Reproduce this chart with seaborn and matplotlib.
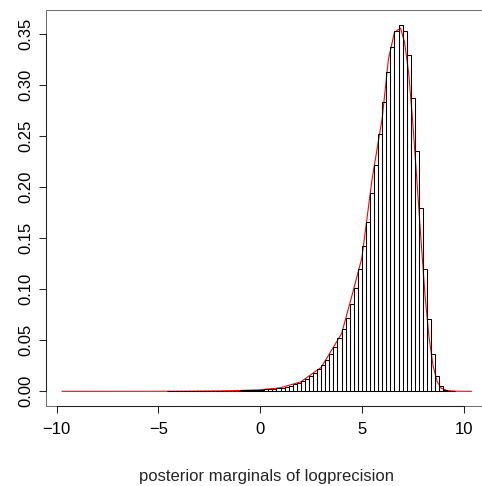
import numpy as np
import pandas as pd
import matplotlib
matplotlib.use("Agg")
import matplotlib.pyplot as plt
import seaborn as sns
from matplotlib.patches import Rectangle

# ---- data ----
bin_start = -4.6
bin_width = 0.2
bar_heights = [
    0.0001, 0.0001, 0.0001, 0.0001, 0.0001, 0.0002, 0.0002, 0.0002, 0.0002, 0.0003,
    0.0003, 0.0003, 0.0004, 0.0004, 0.0005, 0.0005, 0.0006, 0.0007, 0.0008, 0.0009,
    0.0010, 0.0012, 0.0014, 0.0016, 0.0019, 0.0022, 0.0026, 0.0031, 0.0036, 0.0043,
    0.0054, 0.0067, 0.0083, 0.0104, 0.0123, 0.0153, 0.0179, 0.0217, 0.0255, 0.0308,
    0.0370, 0.0438, 0.0519, 0.0613, 0.0719, 0.0857, 0.1015, 0.1200, 0.1420, 0.1660,
    0.1940, 0.2220, 0.2525, 0.2840, 0.3130, 0.3380, 0.3530, 0.3594, 0.3530, 0.3300,
    0.2880, 0.2360, 0.1800, 0.1200, 0.0708, 0.0367, 0.0153, 0.0049, 0.0016, 0.0006,
    0.0002,
]
dens_x = [-9.74, -6.0, -4.0, -2.0, -1.0, 0.0, 1.0, 2.0, 2.5, 3.0, 3.5, 4.0, 4.5,
          5.0, 5.5, 6.0, 6.3, 6.6, 6.9, 7.1, 7.3, 7.5, 7.7, 7.9, 8.1, 8.3, 8.5,
          8.7, 8.9, 9.2, 9.6, 10.39]
dens_y = [0.0, 0.00002, 0.0001, 0.0004, 0.0008, 0.0015, 0.0035, 0.0093, 0.0165,
          0.0235, 0.0400, 0.0565, 0.0930, 0.1310, 0.2080, 0.2680, 0.3250, 0.3520,
          0.3560, 0.3420, 0.3120, 0.2640, 0.2080, 0.1500, 0.0950, 0.0530, 0.0250,
          0.0095, 0.0030, 0.0007, 0.0001, 0.0]
x_ticks = [-10, -5, 0, 5, 10]
y_ticks = [0.00, 0.05, 0.10, 0.15, 0.20, 0.25, 0.30, 0.35]
x_label = "posterior marginals of logprecision"

# ---- derived ----
n_bins = len(bar_heights)
bin_end = round(bin_start + bin_width * n_bins, 6)
centers = [round(bin_start + bin_width * (i + 0.5), 6) for i in range(n_bins)]
hist_df = pd.DataFrame({"x": centers, "h": bar_heights})

sns.set_style("ticks")
plt.rcParams["font.family"] = ["Liberation Sans", "DejaVu Sans"]

FS = 12.0
W, H = 482, 486
fig = plt.figure(figsize=(W / 100, H / 100), dpi=100)
left_px, right_px, top_px, bottom_px = 45.7, 488.0, 10.0, 406.0
ax = fig.add_axes([left_px / W, 1 - bottom_px / H,
                   (right_px - left_px) / W, (bottom_px - top_px) / H])

sns.lineplot(x=dens_x, y=dens_y, color="red", linewidth=0.8, sort=False,
             ax=ax, zorder=1)
sns.histplot(data=hist_df, x="x", weights="h", binwidth=bin_width,
             binrange=(bin_start, bin_end), stat="count",
             fill=False, color="black", linewidth=0.75, ax=ax, zorder=2)

ax.set_xlim(-10.545, 11.2)
ax.set_ylim(-0.0144, 0.3738)
ax.set_xticks(x_ticks)
ax.set_xticklabels([("\u2212" + str(-t)) if t < 0 else str(t) for t in x_ticks])
ax.set_yticks(y_ticks)
ax.set_yticklabels([f"{t:.2f}" for t in y_ticks], rotation=90, va="center")

ax.set_ylabel("")
ax.set_xlabel(x_label, fontsize=FS, labelpad=23.5)

ax.tick_params(axis="both", direction="out", length=5.2, width=0.75,
               color="#222222", labelsize=FS, labelcolor="black",
               bottom=True, left=True)
ax.tick_params(axis="x", pad=6.0)
ax.tick_params(axis="y", pad=3.6)

for s in ["top", "right"]:
    ax.spines[s].set_visible(False)
ax.spines["left"].set_bounds(0.0, 0.35)
ax.spines["bottom"].set_bounds(-10, 10)
for s in ["left", "bottom"]:
    ax.spines[s].set_color("#222222")
    ax.spines[s].set_linewidth(0.75)
    ax.spines[s].set_zorder(4)

ax.add_patch(Rectangle((0, 0), 1, 1, transform=ax.transAxes, fill=False,
                       edgecolor="#707070", linewidth=0.75, clip_on=False,
                       zorder=3))
ax.grid(False)

fig.savefig("out.png", dpi=100)
